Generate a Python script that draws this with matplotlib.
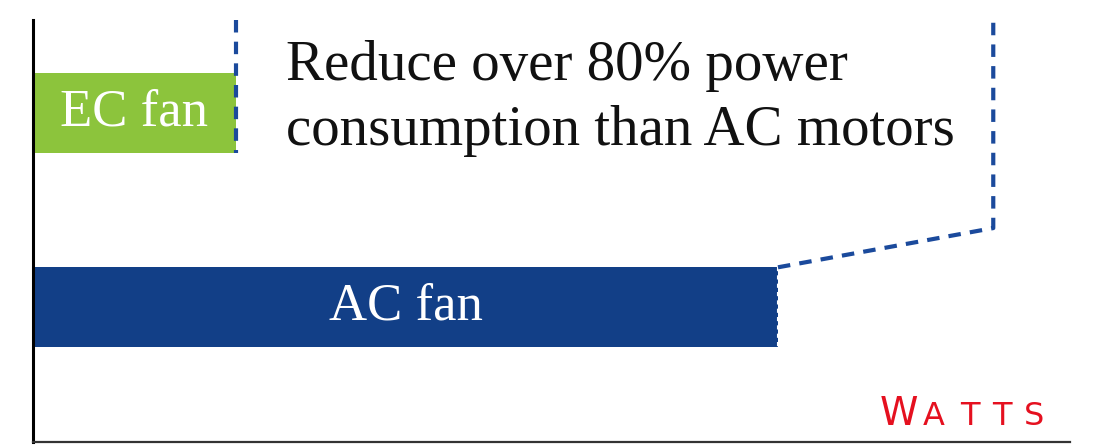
import matplotlib.pyplot as plt

# 数据
fans = ["AC fan", "EC fan"]
watts = [100, 27.2]
bar_colors = ["#123f87", "#8cc43c"]
note = "Reduce over 80% power\nconsumption than AC motors"
unit = "WATTS"

plt.rcParams['font.family'] = ['Liberation Serif', 'DejaVu Serif']

fig = plt.figure(figsize=(10.98, 4.46), dpi=100)
ax = fig.add_axes([0.030, 0.009, 0.9445, 0.946])

y_pos = [3.2, 7.8]
ax.barh(y_pos, watts, height=1.88, color=bar_colors, zorder=2)

# 柱子里的文字
for y, w, name in zip(y_pos, watts, fans):
    ax.text(w / 2 if name == "EC fan" else 50, y, name, color="white",
            fontsize=38, ha="center", va="center", zorder=3)

# 虚线
dash = dict(color="#1b4a9c", lw=3, ls=(0, (3, 2.2)), clip_on=False, zorder=4)
ax.plot([watts[1], watts[1]], [10, y_pos[1] - 0.94], **dash)
ax.plot([watts[0], watts[0]], [y_pos[0] + 0.94, y_pos[0] - 0.94],
        color="white", lw=1.5, ls=(0, (2, 2)), zorder=4)
ax.plot([watts[0], 128.9, 128.9], [y_pos[0] + 0.94, 5.07, 10], **dash)

ax.text(34, 8.15, note, fontsize=41, ha="left", va="center", linespacing=1.33,
        color="#111111")

# 单位 (小型大写字母)
x_letters = [113.6, 119.5, 124.4, 128.7, 133.0]
for i, (ch, xl) in enumerate(zip(unit, x_letters)):
    ax.text(xl, 0.40, ch, color="#e5101f", fontsize=28 if i == 0 else 23,
            ha="left", va="baseline", family="DejaVu Sans")

ax.set_xlim(0, 139.2)
ax.set_ylim(0, 10)
ax.spines['top'].set_visible(False)
ax.spines['right'].set_visible(False)
ax.spines['left'].set_linewidth(2.2)
ax.spines['bottom'].set_linewidth(1.6)
ax.spines['bottom'].set_color("#333333")
ax.set_xticks([])
ax.set_yticks([])

plt.savefig("out.png", dpi=100)
